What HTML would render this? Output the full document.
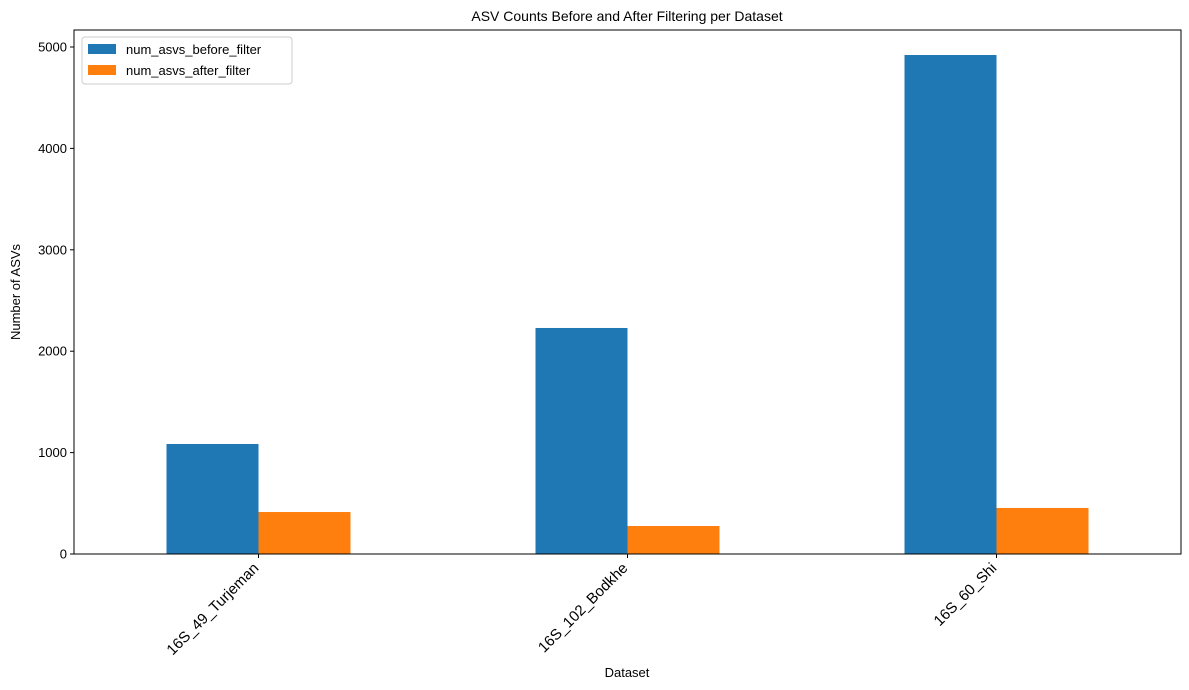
<!DOCTYPE html>
<html><head><meta charset="utf-8"><style>
body{margin:0;background:#fff;}
svg{display:block;font-family:"Liberation Sans","DejaVu Sans",sans-serif;}
</style></head><body>
<svg id="chart" width="1189" height="690">
<text x="627" y="21" text-anchor="middle" font-size="14">ASV Counts Before and After Filtering per Dataset</text>
<g id="bars"></g>
<g id="yaxis"></g>
<g id="xaxis"></g>
<rect x="74" y="30" width="1107" height="524" fill="none" stroke="#000" stroke-width="1"/>
<text x="20" y="292" text-anchor="middle" font-size="13" transform="rotate(-90 20 292)">Number of ASVs</text>
<text x="627" y="677" text-anchor="middle" font-size="13">Dataset</text>
<g>
<rect x="82" y="37" width="210" height="47" fill="#fff" stroke="#ccc" rx="3"/>
<rect x="88" y="44" width="28" height="10" fill="#1f77b4"/>
<text x="126" y="54" font-size="13">num_asvs_before_filter</text>
<rect x="88" y="65" width="28" height="10" fill="#ff7f0e"/>
<text x="126" y="75" font-size="13">num_asvs_after_filter</text>
</g>
</svg>
<script>
const categories=["16S_49_Turjeman","16S_102_Bodkhe","16S_60_Shi"];
const beforeValues=[1085,2229,4921];
const afterValues=[414,276,454];
const yTicks=[0,1000,2000,3000,4000,5000];
const NS="http://www.w3.org/2000/svg";
const L=74,R=1181,B=554,pxPer=0.1014;
function y(v){return B-v*pxPer;}
function xc(i){return L+(R-L)/categories.length*(i+0.5);}
const bw=92;
function mk(tag,attrs,parent){const e=document.createElementNS(NS,tag);for(const k in attrs)e.setAttribute(k,attrs[k]);parent.appendChild(e);return e;}
const gb=document.getElementById('bars'),gy=document.getElementById('yaxis'),gx=document.getElementById('xaxis');
categories.forEach((c,i)=>{
  const b=mk('rect',{x:xc(i)-bw,y:y(beforeValues[i]),width:bw,height:B-y(beforeValues[i]),fill:'#1f77b4'},gb);
  
  
  const a=mk('rect',{x:xc(i),y:y(afterValues[i]),width:bw,height:B-y(afterValues[i]),fill:'#ff7f0e'},gb);
  
  
  const t=mk('line',{x1:xc(i),x2:xc(i),y1:B,y2:B+4,stroke:'#000'},gx);
  
  
  const lx=xc(i)+1,ly=B+15;
  const tx=mk('text',{x:lx,y:ly,'text-anchor':'end','font-size':'15',transform:'rotate(-45 '+lx+' '+ly+')'},gx);
  tx.textContent=c;
  
  
});
yTicks.forEach(v=>{
  const t=mk('line',{x1:L-4,x2:L,y1:y(v),y2:y(v),stroke:'#000'},gy);
  
  
  const tx=mk('text',{x:L-7,y:y(v)+4.5,'text-anchor':'end','font-size':'13'},gy);
  tx.textContent=v;
  
  
});
</script>
</body></html>
